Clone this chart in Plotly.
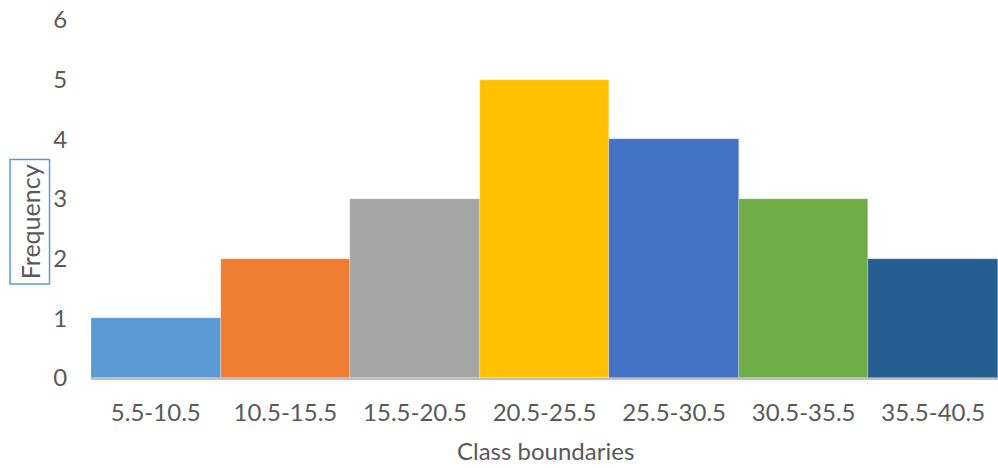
import plotly.graph_objects as go

categories = ["5.5-10.5", "10.5-15.5", "15.5-20.5", "20.5-25.5", "25.5-30.5", "30.5-35.5", "35.5-40.5"]
frequency = [1, 2, 3, 5, 4, 3, 2]
colors = ["#5B9BD5", "#ED7D31", "#A5A5A5", "#FFC000", "#4472C4", "#70AD47", "#255E91"]

FONT = "Lato, Liberation Sans, sans-serif"
FS = 24
GREY = "#595959"

W, H = 998, 468
L, T = 91, 20
PLOT_W, PLOT_H = 907, 357.6

fig = go.Figure(go.Bar(
    x=categories, y=frequency,
    marker=dict(color=colors, line=dict(color="rgba(255,255,255,0.5)", width=0.5)),
    showlegend=False,
))

fig.update_layout(
    width=W, height=H,
    margin=dict(l=L, r=0, t=T, b=H - T - PLOT_H, autoexpand=False),
    paper_bgcolor="white", plot_bgcolor="white",
    bargap=0,
    font=dict(family=FONT, color=GREY, size=FS),
    xaxis=dict(
        automargin=False, ticklabeloverflow="allow",
        showline=True, linecolor="#BFBFBF", linewidth=1.5,
        showgrid=False, ticks="outside", ticklen=12, tickcolor="rgba(0,0,0,0)",
        tickfont=dict(size=FS, color=GREY),
    ),
    yaxis=dict(
        automargin=False, ticklabeloverflow="allow",
        range=[0, 6], dtick=1, showgrid=False, zeroline=False, showline=False,
        ticks="outside", ticklen=18, tickcolor="rgba(0,0,0,0)",
        tickfont=dict(size=FS, color=GREY),
    ),
    annotations=[
        dict(
            text="Frequency", textangle=-90, xref="paper", yref="paper",
            x=(29.5 - 91) / PLOT_W, y=(377.6 - 222) / PLOT_H, xanchor="center", yanchor="middle",
            showarrow=False,
            font=dict(size=25, color=GREY, family=FONT),
            bordercolor="#5B9BD5", borderwidth=1.5, borderpad=4, bgcolor="white",
        ),
        dict(
            text="Class boundaries", xref="paper", yref="paper",
            x=(545 - 91) / PLOT_W, y=-(450 - 377.6) / PLOT_H, xanchor="center", yanchor="middle",
            showarrow=False, font=dict(size=FS, color=GREY, family=FONT),
        ),
    ],
)

fig.write_html(
    "out.html",
    config={"displayModeBar": False},
    post_script="document.body.style.margin='0';document.body.style.overflow='hidden';",
)
